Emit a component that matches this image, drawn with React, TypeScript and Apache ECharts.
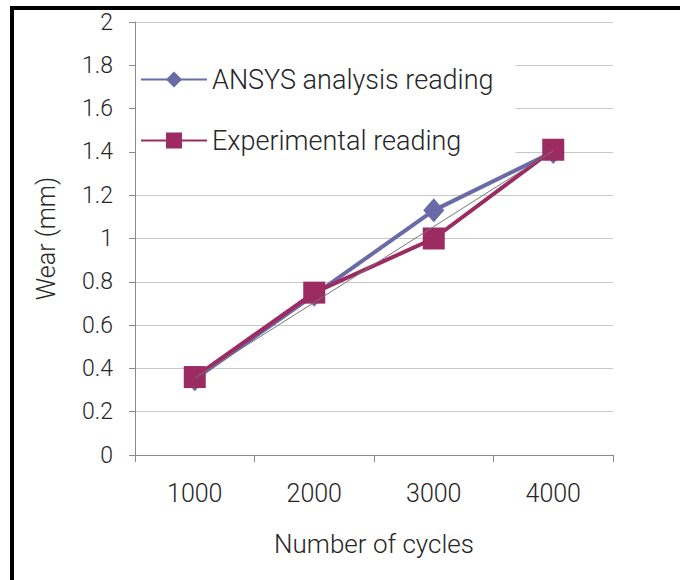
import React, { useEffect, useRef } from "react";
import * as echarts from "echarts";

const categories = ["1000", "2000", "3000", "4000"];
const ansysValues = [0.35, 0.74, 1.13, 1.4];
const experimentalValues = [0.36, 0.75, 1.0, 1.41];
const trendValues = [0.355, 0.705, 1.055, 1.405];

const FONT = "Roboto, 'Liberation Sans', Arial, sans-serif";
const TXT = "#262626";

export default function App() {
  const ref = useRef<HTMLDivElement>(null);
  useEffect(() => {
    if (!ref.current) return;
    const chart = echarts.init(ref.current, null, { renderer: "svg" });
    chart.setOption({
      animation: false,
      backgroundColor: "#fff",
      textStyle: { fontFamily: FONT, fontWeight: 300 },
      grid: { left: 135, right: 67, top: 22, bottom: 125, containLabel: false },
      graphic: [
        {
          type: "rect",
          shape: { x: 12, y: 8, width: 720, height: 620 },
          style: { fill: "none", stroke: "#000", lineWidth: 4 },
          z: 100,
          silent: true,
        },
      ],
      legend: {
        orient: "vertical",
        left: 136,
        top: 52,
        padding: [14, 22, 16, 4],
        backgroundColor: "#fff",
        itemWidth: 66,
        itemHeight: 20,
        itemGap: 34,
        data: ["ANSYS analysis reading", "Experimental reading"],
        textStyle: { fontSize: 27, color: TXT, fontFamily: FONT, fontWeight: 300 },
        z: 3,
      },
      xAxis: {
        type: "category",
        data: categories,
        boundaryGap: true,
        name: "Number of cycles",
        nameLocation: "middle",
        nameGap: 76,
        nameTextStyle: { fontSize: 26, color: TXT, fontFamily: FONT, fontWeight: 300 },
        axisLine: { show: true, lineStyle: { color: "#8a8a8a", width: 1 } },
        axisTick: { show: true, length: 7, lineStyle: { color: "#8a8a8a" } },
        axisLabel: { fontSize: 25, color: TXT, margin: 26, fontFamily: FONT, fontWeight: 300 },
        splitLine: { show: false },
      },
      yAxis: {
        type: "value",
        min: 0,
        max: 2,
        interval: 0.2,
        name: "Wear (mm)",
        nameLocation: "middle",
        nameGap: 76,
        nameTextStyle: { fontSize: 25, color: TXT, fontFamily: FONT, fontWeight: 300 },
        axisLine: { show: true, lineStyle: { color: "#8a8a8a", width: 1 } },
        axisTick: { show: true, length: 6, lineStyle: { color: "#8a8a8a" } },
        axisLabel: { fontSize: 23, color: TXT, margin: 22, fontFamily: FONT, fontWeight: 300 },
        splitLine: { show: true, lineStyle: { color: "#c8c8c8", width: 1 } },
      },
      series: [
        {
          name: "ANSYS analysis reading",
          type: "line",
          data: ansysValues,
          symbol: "diamond",
          symbolSize: [21, 24],
          lineStyle: { color: "#6a6aa8", width: 4 },
          itemStyle: { color: "#6a6aa8" },
          z: 4,
        },
        {
          name: "Experimental reading",
          type: "line",
          data: experimentalValues,
          symbol: "rect",
          symbolSize: 22,
          lineStyle: { color: "#9c2b62", width: 4 },
          itemStyle: { color: "#9c2b62" },
          z: 5,
        },
        {
          name: "trend",
          type: "line",
          data: trendValues,
          symbol: "none",
          lineStyle: { color: "#777", width: 1 },
          z: 6,
          silent: true,
        },
      ],
    });
    return () => chart.dispose();
  }, []);
  return (
    <div
      ref={ref}
      style={{ position: "fixed", left: 0, top: 0, width: 680, height: 580 }}
    />
  );
}
